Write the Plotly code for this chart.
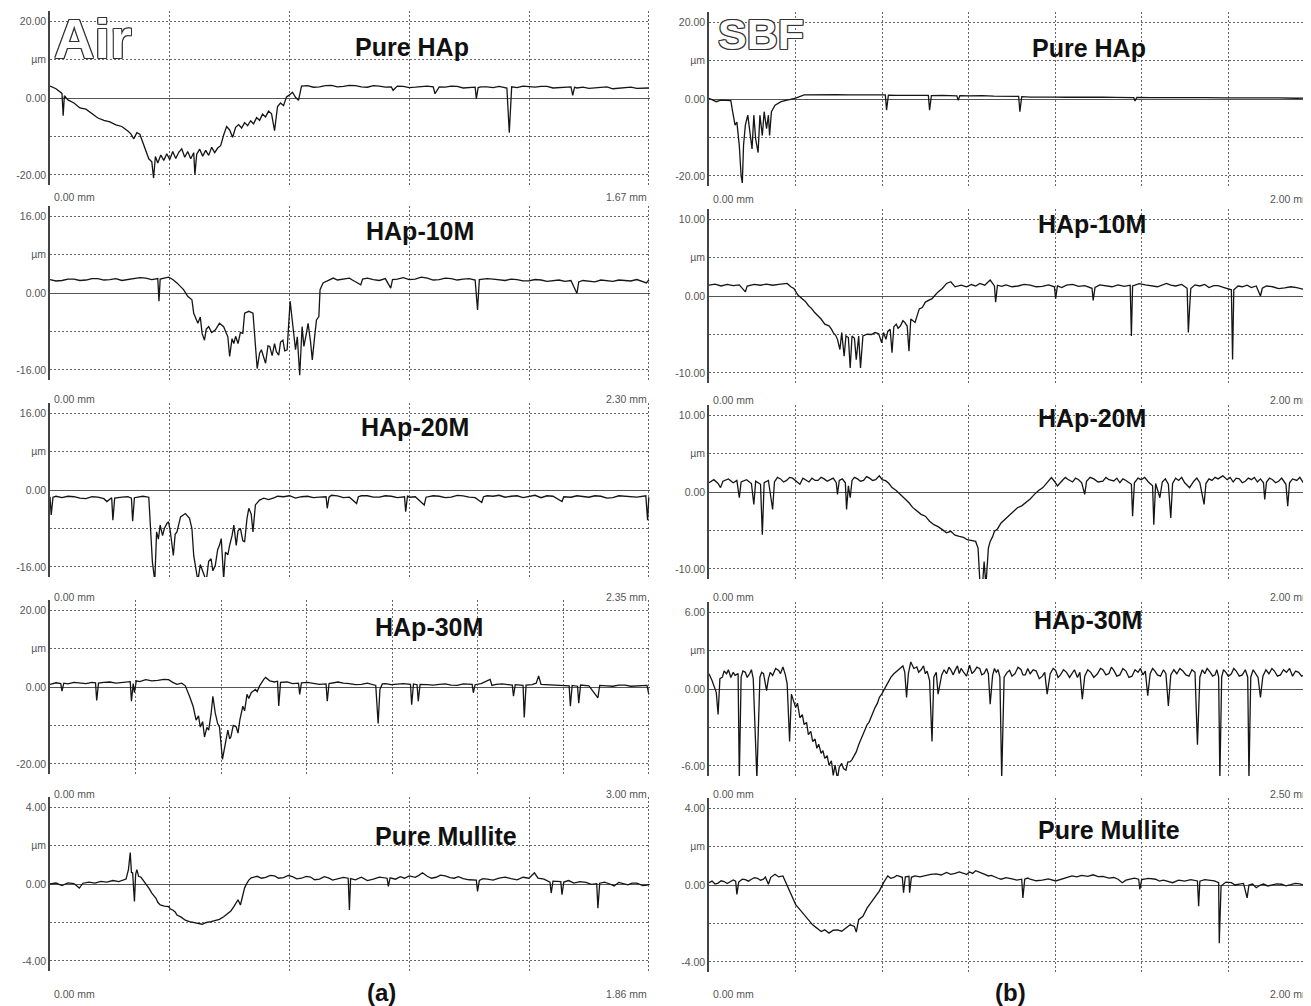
import plotly.graph_objects as go

# ---------------- data: (position in % of scan length, height in µm) ----------------
air_pure_hap = [(0,3.1),(1,2.4),(2,1.2),(2.2,-4.6),(2.4,0.6),(3,-0.5),(4,-1.3),(5,-2.6),(6,-2.9),(7,-4.0),(8,-5.2),(9,-5.8),(10,-6.2),(11,-7.0),(12,-7.4),(13,-8.6),(13.5,-9.3),(14,-10.6),(14.5,-9.0),(15,-9.4),(15.5,-11.5),(16,-13.4),(16.5,-15.8),(17,-16.6),(17.3,-20.8),(17.6,-15.2),(18,-16.9),(18.5,-14.8),(19,-16.2),(19.5,-14.5),(20,-16.0),(20.5,-13.9),(21,-15.7),(21.5,-14.1),(22,-13.2),(22.5,-15.4),(23,-13.9),(23.5,-15.8),(24,-14.2),(24.2,-19.9),(24.5,-14.6),(25,-13.3),(25.5,-15.1),(26,-13.6),(26.5,-14.9),(27,-12.8),(27.5,-14.2),(28,-13.0),(28.5,-12.4),(29,-9.6),(29.5,-7.4),(30,-8.3),(30.5,-10.2),(31,-7.6),(31.5,-6.9),(32,-7.8),(32.5,-6.4),(33,-7.2),(33.5,-5.9),(34,-6.7),(34.5,-5.1),(35,-5.8),(35.5,-4.2),(36,-4.9),(36.5,-3.4),(37,-4.1),(37.5,-8.5),(38,-2.2),(38.5,-1.3),(39,-2.0),(39.5,0.3),(40,0.8),(40.5,1.5),(41,0.2),(41.5,-0.6),(42,3.1),(43,3.2),(44,2.8),(45,2.9),(46,3.2),(47,3.3),(48,2.9),(49,3.0),(50,3.3),(51,3.2),(52,2.9),(53,2.8),(54,3.2),(55,3.1),(56,2.8),(57,2.9),(57.3,2.0),(58,3.1),(59,3.0),(60,2.7),(61,2.8),(62,3.0),(63,3.1),(64,2.9),(64.3,1.1),(65,2.9),(66,2.8),(67,3.1),(68,3.0),(69,2.6),(70,2.7),(71,2.8),(71.2,-0.2),(71.5,2.7),(72,2.9),(73,2.9),(74,2.7),(75,3.0),(76.3,2.6),(76.7,-9.0),(77.1,2.9),(78,2.7),(79,3.1),(80,2.9),(81,2.8),(82,3.0),(83,3.0),(84,2.6),(85,2.7),(86,2.9),(87,2.9),(87.3,0.7),(87.6,2.8),(88,2.6),(89,2.8),(90,2.5),(91,2.6),(92,2.8),(93,2.9),(94,2.4),(95,2.5),(96,2.7),(97,2.8),(98,2.5),(100,2.6)]

air_hap_10m = [(0,2.8),(1,2.5),(2,2.6),(3,2.9),(4,2.9),(5,2.6),(6,2.7),(7,3.0),(8,3.0),(9,2.7),(10,2.8),(11,3.0),(12,2.6),(13,2.8),(14,2.9),(15,3.2),(16,3.1),(17,2.8),(18,3.0),(18.2,-1.7),(18.4,2.9),(19.8,3.3),(20.5,2.8),(21.2,2.1),(22.3,0.7),(23.0,-0.7),(23.7,-1.4),(24.0,-4.2),(24.7,-6.3),(25.1,-5.0),(25.4,-8.4),(25.8,-9.8),(26.1,-7.5),(26.5,-7.0),(27.0,-8.2),(27.6,-7.7),(28.3,-6.3),(29.0,-7.0),(29.7,-9.1),(30.0,-13.2),(30.4,-9.5),(30.7,-10.5),(31.0,-9.0),(31.4,-10.5),(31.8,-8.2),(32.2,-8.4),(32.5,-4.2),(33.2,-3.8),(33.9,-4.2),(34.3,-10.5),(34.6,-15.7),(35.0,-12.5),(35.3,-11.8),(35.7,-13.4),(36.0,-14.6),(36.4,-11.0),(36.7,-11.1),(37.1,-13.0),(37.5,-10.5),(37.8,-12.2),(38.2,-12.9),(38.5,-10.2),(38.9,-9.8),(39.2,-12.0),(39.6,-11.8),(40.1,-1.7),(40.4,-5.6),(41.0,-11.8),(41.3,-9.1),(41.7,-17.1),(42.1,-7.0),(42.4,-11.1),(42.8,-8.5),(43.1,-6.3),(43.5,-10.0),(43.8,-13.9),(44.2,-9.0),(44.5,-5.6),(44.9,-4.9),(45.1,0.7),(45.6,2.1),(46.5,2.6),(47.3,3.1),(48,2.7),(49,2.9),(50,3.1),(50.5,2.7),(51.9,1.7),(52.2,2.9),(53,3.1),(54,2.8),(55,2.6),(56,3.0),(56.9,1.0),(57.2,2.8),(58,2.9),(59,3.2),(60,2.8),(61,2.9),(62,3.3),(63,3.1),(64,2.7),(65,2.8),(66,3.1),(67,3.0),(68,2.7),(69,2.9),(70,3.0),(71,2.7),(71.4,-3.5),(71.7,2.8),(73,3.0),(74,2.9),(75,2.7),(76,2.6),(77,2.9),(78,2.8),(79,2.5),(80,2.5),(81,2.8),(82,2.7),(83,2.4),(84,2.6),(85,2.7),(86,2.4),(87,2.6),(88,-0.1),(88.3,2.3),(89,2.6),(90,2.5),(91,2.3),(92,2.7),(93,2.5),(94,2.4),(95,2.7),(96,2.6),(97,2.5),(98,2.8),(99.6,2.1),(100,2.7)]

air_hap_20m = [(0,-1.4),(0.2,-5.2),(0.5,-1.5),(1,-1.3),(2,-1.6),(3,-1.3),(4,-1.4),(5,-1.7),(6,-1.8),(7,-1.4),(8,-1.5),(9,-1.8),(9.5,-2.4),(10.3,-1.6),(10.5,-6.3),(10.8,-1.7),(12,-1.5),(13,-1.4),(13.6,-1.7),(13.8,-6.5),(14.1,-1.6),(15.5,-1.3),(16.5,-1.5),(16.8,-7.3),(17.1,-15.0),(17.5,-18.9),(17.8,-8.7),(18.1,-10.2),(18.4,-7.3),(18.8,-9.5),(19.1,-8.0),(19.5,-7.0),(19.8,-6.6),(20.1,-8.7),(20.6,-13.6),(20.9,-9.2),(21.2,-8.7),(21.8,-5.6),(22.6,-4.9),(23.3,-5.9),(23.7,-8.0),(24.0,-13.6),(24.4,-16.4),(24.7,-18.9),(25.1,-15.5),(25.4,-16.4),(25.7,-17.5),(26.1,-18.9),(26.5,-14.8),(26.9,-14.3),(27.2,-16.8),(27.6,-15.7),(28.0,-12.4),(28.3,-11.5),(28.6,-10.1),(29.0,-18.5),(29.3,-12.9),(29.7,-13.5),(30.0,-11.5),(30.4,-9.5),(30.7,-7.3),(31.1,-11.5),(31.4,-8.5),(31.8,-8.0),(32.2,-10.5),(32.5,-10.8),(32.9,-5.9),(33.2,-3.8),(33.6,-5.0),(33.9,-8.7),(34.3,-3.1),(34.6,-2.6),(35.0,-2.1),(35.7,-1.7),(36.5,-2.0),(37.5,-1.6),(38,-1.3),(39,-1.4),(40,-1.2),(41,-1.7),(42,-1.4),(43,-1.3),(44,-1.6),(45,-1.5),(46.1,-1.4),(46.3,-3.8),(46.6,-1.5),(47,-1.1),(48,-1.2),(49,-1.6),(50,-1.5),(51.2,-2.8),(51.5,-1.4),(52,-1.2),(53,-1.2),(54,-1.5),(55,-1.5),(56,-1.2),(57,-1.3),(58,-1.6),(59.2,-1.4),(59.4,-4.5),(59.7,-1.2),(60,-1.5),(61,-1.4),(62.5,-3.1),(62.8,-1.5),(64,-1.2),(65,-1.3),(66,-1.6),(67,-1.5),(68,-1.1),(69,-1.2),(70,-1.5),(71,-1.6),(72.1,-2.6),(72.4,-1.4),(73,-1.2),(74,-1.3),(75,-1.1),(76,-1.5),(77,-1.3),(78,-1.2),(79,-1.6),(80,-1.4),(81,-1.1),(82,-1.6),(83,-1.2),(84,-1.3),(85.5,-2.4),(85.8,-1.4),(87,-1.5),(88,-1.2),(89,-1.4),(90,-1.5),(91,-1.2),(92,-1.3),(93,-1.7),(94,-1.6),(95,-1.2),(96,-1.3),(97,-1.5),(98,-1.5),(99.5,-1.2),(99.8,-6.3),(100,-1.5)]

air_hap_30m = [(0,0.7),(1,1.1),(1.8,0.9),(2.0,-1.1),(2.3,1.0),(3,0.8),(4,1.2),(5,1.0),(6,0.9),(7,1.2),(7.6,1.1),(7.8,-3.5),(8.1,1.0),(9,1.2),(10,1.3),(11,1.0),(12,1.2),(13.4,1.4),(13.6,-3.7),(13.9,0.9),(14.1,-1.5),(14.4,1.6),(15,1.4),(16,1.9),(17,1.6),(18,1.7),(19,2.0),(19.8,1.9),(20.5,1.2),(21.2,0.7),(22.0,1.0),(22.6,0.3),(23.3,-2.4),(23.9,-5.0),(24.4,-8.6),(24.8,-7.5),(25.1,-10.4),(25.5,-9.0),(25.8,-13.0),(26.2,-10.5),(26.5,-11.2),(26.9,-7.0),(27.2,-2.4),(27.6,-6.8),(28.0,-9.5),(28.3,-10.4),(28.8,-18.8),(29.3,-14.8),(29.7,-11.2),(30.0,-13.5),(30.2,-13.0),(30.6,-10.0),(31.1,-10.4),(31.4,-12.0),(31.7,-8.6),(32.2,-5.0),(32.5,-6.2),(32.9,-1.9),(33.2,-3.0),(33.6,-1.5),(34.3,-0.6),(34.6,-1.2),(35.0,0.3),(35.7,2.0),(36.0,2.5),(36.7,1.6),(37.5,1.3),(38.0,1.5),(38.2,-4.9),(38.5,1.2),(39.6,1.3),(40.5,0.9),(41.5,1.0),(41.7,-1.9),(42.0,1.1),(43,1.2),(44,1.0),(45,0.7),(46.1,0.8),(46.3,-3.7),(46.6,0.9),(47.3,1.1),(48.1,1.3),(49,1.0),(50,0.9),(51,0.6),(52,0.7),(53,1.0),(54.4,0.4),(54.8,-9.5),(55.1,-0.6),(55.5,0.8),(56,0.9),(57,0.6),(58,0.8),(59,0.9),(60.2,0.7),(60.4,-4.6),(60.7,0.8),(61.3,0.6),(61.5,-3.7),(61.8,0.7),(63,0.6),(64,0.5),(65,0.7),(66,0.8),(67,0.5),(68,0.4),(69,0.8),(70.5,0.7),(70.7,-1.5),(71.0,0.6),(72,0.9),(73.5,2.0),(73.8,0.4),(74.5,0.7),(75.5,0.8),(76.5,0.6),(77.2,0.5),(77.4,-2.4),(77.7,0.6),(79.0,0.4),(79.2,-7.9),(79.5,0.5),(80.5,0.6),(81.2,1.0),(81.6,2.9),(82.0,0.7),(83,0.6),(84,0.5),(85,0.4),(86.7,0.3),(86.9,-5.0),(87.2,0.4),(88.1,0.2),(88.3,-4.2),(88.6,0.5),(89.3,0.4),(90,0.3),(91.5,-2.8),(91.8,0.4),(93,0.3),(94,0.2),(95,0.5),(96,0.5),(97,0.2),(98,0.3),(99,0.5),(99.7,0.4),(100,-1.9)]

air_pure_mullite = [(0,0.0),(1,0.05),(2,-0.08),(3,0.06),(4,0.02),(4.9,-0.21),(5.5,0.04),(6.5,0.1),(7.5,0.05),(8.5,0.14),(9.5,0.1),(10.5,0.18),(11.5,0.12),(12.3,0.24),(12.7,0.26),(13.1,0.75),(13.4,1.63),(13.6,0.6),(13.8,0.58),(14.1,-0.91),(14.3,0.5),(14.5,0.75),(14.8,0.4),(15.2,0.35),(15.5,0.23),(15.9,0.05),(16.3,-0.12),(16.6,-0.25),(17.0,-0.47),(17.4,-0.6),(17.7,-0.74),(18.0,-0.95),(18.4,-1.09),(19.1,-1.15),(19.8,-1.18),(20.1,-1.3),(20.5,-1.35),(20.9,-1.45),(21.2,-1.61),(21.9,-1.72),(22.6,-1.88),(23.3,-1.95),(24.0,-2.02),(24.7,-2.05),(25.4,-2.09),(26.1,-2.0),(26.9,-1.96),(27.6,-1.9),(28.3,-1.84),(29.0,-1.7),(29.7,-1.53),(30.2,-1.4),(30.7,-1.18),(31.1,-1.0),(31.4,-0.82),(31.8,-1.09),(32.2,-0.47),(32.5,-0.2),(32.9,0.05),(33.2,0.2),(33.6,0.32),(34.6,0.4),(35.3,0.3),(36,0.35),(36.8,0.45),(37.5,0.42),(38.2,0.3),(39,0.33),(39.8,0.44),(40.5,0.38),(41.2,0.27),(42,0.3),(42.8,0.4),(43.5,0.36),(44.2,0.22),(45,0.25),(45.8,0.38),(46.5,0.32),(47.2,0.2),(48,0.28),(49,0.34),(49.8,0.3),(50.0,-1.35),(50.2,0.28),(51,0.22),(52,0.35),(53,0.18),(54,0.25),(55,0.36),(56.3,0.3),(56.5,-0.12),(56.8,0.32),(57.7,0.25),(58.5,0.38),(59.2,0.3),(60,0.42),(61,0.35),(61.6,0.45),(62.2,0.58),(63,0.4),(63.7,0.3),(64.5,0.35),(65.2,0.46),(66,0.42),(66.8,0.33),(67.5,0.3),(68.2,0.38),(69,0.28),(70,0.22),(71.2,0.2),(71.4,-0.39),(71.7,0.18),(72.3,0.28),(73,0.25),(74,0.2),(75,0.3),(76,0.36),(77,0.28),(78,0.22),(79,0.35),(80,0.3),(80.9,0.58),(81.5,0.3),(82.5,0.25),(83.5,0.1),(83.7,-0.47),(84,0.15),(85.3,0.12),(85.5,-0.56),(85.8,0.1),(86.6,0.18),(87.5,0.05),(88.5,0.12),(89.5,0.08),(90.4,-0.02),(91.3,0.02),(91.5,-1.26),(91.8,0.04),(92.6,0.1),(93.5,0.0),(94.2,-0.1),(95,0.08),(95.8,0.02),(96.5,-0.04),(97.2,0.05),(98,0.05),(99,-0.08),(100,-0.04)]

sbf_pure_hap = [(0,0.2),(0.5,-0.2),(1.2,-0.7),(1.9,-0.3),(2.8,-0.3),(3.6,-0.4),(3.9,-3.3),(4.3,-6.8),(4.6,-6.0),(5.0,-12.1),(5.3,-20.0),(5.5,-21.8),(5.7,-12.0),(6.0,-6.8),(6.4,-4.2),(6.7,-8.6),(7.1,-13.0),(7.4,-4.2),(7.7,-10.4),(8.1,-13.9),(8.4,-4.2),(8.8,-9.5),(9.1,-3.3),(9.5,-7.7),(9.8,-4.2),(10.0,-9.5),(10.3,-3.3),(10.9,-1.6),(11.9,-0.7),(12.9,-0.3),(14.3,0.2),(15.7,1.05),(17,1.1),(19,1.0),(21,1.15),(23,1.05),(25,1.1),(27,1.0),(29.1,1.05),(29.3,-2.9),(29.6,1.0),(31,0.95),(33,1.0),(35,0.9),(36.2,0.95),(36.4,-2.9),(36.7,0.9),(38.5,0.95),(40.9,0.8),(41.1,-0.3),(41.4,0.85),(43,0.8),(45,0.9),(47,0.75),(49,0.8),(51.1,0.7),(51.3,-3.3),(51.6,0.6),(53,0.5),(55,0.55),(57,0.5),(59,0.45),(61,0.5),(63,0.4),(65,0.45),(67,0.4),(70.1,0.35),(70.3,-0.5),(70.6,0.4),(73,0.35),(76,0.4),(79,0.3),(82,0.35),(85,0.3),(88,0.35),(91,0.25),(94,0.3),(97,0.2),(99.2,0.25)]

sbf_hap_10m = [(0,1.4),(1,1.55),(2,1.3),(3,1.5),(4,1.35),(5,1.45),(6.0,0.53),(6.3,1.3),(7.5,1.5),(8.5,1.4),(9.5,1.55),(10.5,1.4),(11.5,1.5),(12.9,1.63),(13.5,1.2),(14.0,0.97),(14.7,0.09),(15.3,-0.35),(15.9,-0.7),(16.4,-1.23),(16.9,-1.6),(17.4,-2.11),(18.0,-2.6),(18.5,-2.99),(19.1,-3.65),(19.8,-3.87),(20.2,-4.3),(20.5,-4.75),(20.9,-5.1),(21.2,-5.63),(21.6,-6.95),(21.9,-4.75),(22.3,-7.82),(22.6,-5.19),(23.0,-5.4),(23.3,-9.36),(23.6,-5.19),(24.0,-5.5),(24.3,-8.26),(24.7,-5.19),(25.0,-9.36),(25.4,-5.19),(26.1,-4.97),(26.8,-5.0),(27.4,-4.75),(28.0,-4.9),(28.5,-6.07),(28.8,-4.75),(29.2,-5.63),(29.5,-4.6),(29.9,-4.31),(30.2,-7.38),(30.5,-4.0),(30.9,-3.65),(31.2,-4.2),(31.6,-3.87),(32.0,-3.2),(32.3,-3.43),(32.7,-3.9),(33.0,-7.16),(33.3,-2.99),(34.0,-3.43),(34.7,-1.67),(35.2,-1.5),(35.7,-0.79),(36.2,-0.6),(36.8,-0.35),(37.3,0.1),(37.8,0.53),(38.5,0.97),(39.2,1.63),(39.9,1.85),(40.6,1.19),(41.6,1.41),(42.5,1.2),(43.3,1.49),(44.0,1.3),(44.7,1.63),(45.5,1.4),(46.4,2.07),(47.1,1.3),(47.3,-0.79),(47.6,1.4),(48.3,1.25),(49,1.45),(50,1.2),(51,1.3),(52,1.5),(53,1.4),(54,1.2),(55,1.25),(56,1.45),(57.0,1.2),(57.2,-0.35),(57.5,1.3),(58.2,1.1),(59,1.4),(60,1.5),(61,1.25),(62,1.35),(63.2,1.0),(63.4,-0.57),(63.7,1.1),(64.5,1.45),(65.5,1.3),(66.5,1.2),(67.5,1.45),(68.5,1.25),(69.5,1.4),(69.7,-5.2),(69.9,1.3),(71,1.6),(72,1.45),(73,1.3),(74,1.2),(75.5,1.63),(76.2,1.4),(77,1.3),(78,1.5),(78.9,1.0),(79.1,-4.75),(79.3,-1.67),(79.5,0.97),(80.2,1.45),(81,1.3),(81.8,1.5),(82.5,1.1),(83.3,1.35),(84,1.35),(85,1.1),(86.2,0.8),(86.4,-8.26),(86.6,0.8),(87.3,1.3),(88,1.2),(88.8,1.4),(89.5,1.1),(90.3,1.3),(91.0,0.0),(91.3,1.0),(92,1.3),(93,1.2),(94,0.95),(95,1.05),(96,1.2),(97,1.1),(98,0.9),(99.2,0.97)]

sbf_hap_20m = [(0,1.2),(0.8,1.6),(1.5,1.1),(1.9,0.57),(2.3,1.4),(3.2,1.7),(4.0,1.2),(4.6,1.5),(5.0,-0.74),(5.3,1.3),(6.2,1.6),(7.0,1.1),(7.4,-1.62),(7.7,1.4),(8.5,1.0),(8.8,-5.55),(9.1,1.2),(9.8,1.5),(10.5,-2.27),(10.8,1.3),(11.3,1.9),(11.8,1.7),(12.3,1.3),(12.8,1.5),(13.3,1.9),(13.8,1.8),(14.4,1.4),(15.0,1.0),(15.5,1.8),(16.0,1.6),(16.5,1.3),(17.0,1.8),(17.5,1.5),(18.0,1.5),(18.5,1.9),(19.0,1.7),(19.5,1.4),(20.0,1.6),(20.5,1.8),(21.0,1.2),(21.2,-0.31),(21.5,1.5),(22.0,1.7),(22.5,1.2),(22.7,-2.27),(23.0,0.8),(23.3,-0.74),(23.6,1.5),(24.0,1.9),(24.5,1.7),(25.0,1.4),(25.5,1.5),(26.0,2.0),(26.5,1.8),(27.0,1.5),(27.5,1.6),(28.1,2.1),(28.6,1.6),(29.2,1.44),(29.7,1.1),(30.2,0.57),(30.9,0.2),(31.6,-0.31),(32.3,-0.9),(33.0,-1.4),(33.6,-2.0),(34.3,-2.49),(35.0,-2.9),(35.7,-3.14),(36.4,-3.8),(37.1,-4.24),(37.8,-4.5),(38.5,-4.89),(39.2,-5.3),(39.9,-5.11),(40.6,-5.6),(41.3,-5.76),(42.0,-5.9),(42.6,-6.2),(43.3,-6.3),(44.0,-6.42),(44.4,-7.29),(44.7,-11.66),(45.1,-12.5),(45.4,-9.04),(45.7,-12.1),(46.1,-7.29),(46.4,-6.42),(46.8,-5.8),(47.1,-5.11),(47.6,-4.8),(48.2,-4.02),(48.9,-3.5),(49.6,-2.93),(50.2,-2.6),(50.9,-2.05),(51.6,-1.8),(52.3,-1.4),(53.0,-0.9),(53.7,-0.31),(54.4,0.2),(55.1,0.57),(55.8,1.2),(56.5,1.88),(57.0,1.4),(57.5,0.79),(58.3,1.5),(58.8,1.9),(59.2,1.66),(60.0,1.3),(60.5,1.8),(61.0,1.6),(61.5,1.2),(62.0,-0.31),(62.3,1.4),(62.9,1.9),(63.5,1.7),(64.2,1.3),(65.0,1.4),(65.5,1.9),(66.0,1.6),(66.8,1.44),(67.3,1.8),(67.8,1.2),(68.3,1.7),(68.8,1.5),(69.7,1.0),(69.9,-3.14),(70.2,1.2),(70.8,1.8),(71.3,1.6),(71.9,1.9),(72.5,1.3),(73.2,0.8),(73.4,-4.24),(73.7,1.1),(74.4,-0.74),(74.8,1.3),(75.3,1.7),(75.8,1.0),(76.2,-3.36),(76.5,1.1),(77.0,1.8),(77.5,1.5),(78.0,1.9),(78.5,1.2),(79.3,0.57),(80.0,1.4),(80.5,1.8),(81.0,1.2),(81.7,-1.62),(82.0,1.1),(82.5,1.7),(83.0,1.5),(83.5,1.9),(84.0,1.7),(84.8,2.1),(85.5,1.6),(86.0,1.9),(86.5,1.3),(87.0,1.8),(87.5,1.7),(88.0,1.2),(88.5,1.4),(89.0,1.8),(89.5,1.6),(90.0,1.9),(90.5,1.3),(91.0,1.7),(91.5,1.2),(91.7,-0.96),(92.0,1.3),(92.5,1.8),(93.0,1.6),(93.5,1.2),(94.0,1.4),(94.5,1.8),(95.2,1.0),(95.5,-1.83),(95.8,1.2),(96.3,1.7),(97.0,1.5),(97.5,1.9),(98.0,1.3),(98.6,1.6),(99.2,1.22)]

sbf_hap_30m = [(0,1.19),(0.5,0.66),(1.2,-0.26),(1.5,-1.98),(1.8,0.8),(2.2,0.92),(2.5,1.4),(2.9,1.19),(3.2,1.5),(3.6,0.9),(4.0,1.3),(4.3,1.06),(4.8,1.2),(5.0,-6.99),(5.3,0.92),(5.6,1.4),(6.0,1.3),(6.3,0.9),(6.7,1.19),(7.0,1.5),(7.3,0.8),(7.9,-6.99),(8.4,0.92),(8.7,1.3),(9.0,1.2),(9.5,-0.13),(9.8,0.79),(10.1,1.3),(10.5,1.06),(11.0,1.6),(11.5,1.45),(11.8,1.2),(12.2,1.72),(12.6,1.1),(12.9,0.40),(13.3,-4.09),(13.6,-0.40),(14.3,-1.45),(14.6,-1.1),(15.0,-2.24),(15.4,-2.0),(15.7,-2.77),(16.1,-2.6),(16.4,-3.56),(16.8,-3.3),(17.1,-4.09),(17.5,-3.9),(17.8,-4.62),(18.1,-4.3),(18.5,-5.01),(18.8,-4.8),(19.1,-5.41),(19.5,-5.2),(19.8,-5.94),(20.2,-5.6),(20.5,-6.73),(20.8,-5.94),(21.2,-6.99),(21.5,-6.1),(21.9,-5.8),(22.2,-6.2),(22.6,-6.33),(22.9,-5.7),(23.3,-5.67),(23.6,-5.5),(24.0,-5.15),(24.3,-4.9),(24.7,-4.35),(25.0,-4.0),(25.4,-3.56),(25.7,-3.2),(26.1,-2.77),(26.4,-2.6),(26.7,-2.24),(27.1,-1.9),(27.4,-1.45),(27.8,-1.1),(28.1,-0.66),(28.5,-0.4),(28.8,-0.13),(29.2,0.2),(29.5,0.40),(30.0,0.9),(30.5,1.19),(31.0,1.4),(31.6,1.58),(32.0,1.8),(32.3,1.32),(32.6,-0.66),(32.9,1.2),(33.3,2.11),(33.8,1.6),(34.3,1.72),(34.6,1.3),(35.0,1.5),(35.4,1.8),(35.7,1.19),(36.0,1.4),(36.4,0.66),(36.8,-4.09),(37.1,0.92),(37.5,1.3),(37.8,-0.40),(38.4,1.1),(38.8,1.5),(39.2,1.19),(39.6,1.7),(39.9,1.5),(40.3,1.1),(40.6,1.45),(41.0,1.8),(41.3,1.2),(41.6,1.6),(42.0,1.32),(42.5,1.0),(43.0,1.85),(43.4,1.2),(43.8,1.4),(44.2,1.7),(44.7,1.58),(45.0,1.1),(45.4,1.2),(45.8,1.6),(46.1,1.19),(46.4,-1.19),(46.8,1.06),(47.1,1.6),(47.4,1.3),(47.7,1.5),(48.0,0.92),(48.3,-6.99),(48.7,0.92),(49.2,1.3),(49.6,1.45),(50.0,1.0),(50.5,1.2),(51.0,1.7),(51.5,1.5),(51.8,1.1),(52.2,1.1),(52.6,1.6),(53.0,1.19),(53.5,1.5),(54.0,1.4),(54.5,0.8),(55.0,1.0),(55.4,1.3),(55.8,-0.40),(56.3,1.2),(56.8,1.6),(57.2,1.45),(57.6,0.9),(58.0,1.1),(58.5,1.5),(59.0,1.3),(59.5,0.9),(59.9,1.19),(60.3,1.5),(60.8,0.9),(61.2,1.3),(61.6,-0.79),(62.0,1.0),(62.5,1.5),(63.0,1.3),(63.5,0.9),(64.1,1.19),(64.6,1.6),(65.0,1.5),(65.5,1.1),(66.0,1.2),(66.4,1.7),(66.8,1.45),(67.3,1.0),(67.8,1.1),(68.3,1.6),(68.8,1.4),(69.3,0.9),(69.8,1.0),(70.3,1.5),(70.8,1.3),(71.2,1.6),(71.6,1.1),(72.0,1.4),(72.4,-0.53),(72.8,1.2),(73.2,1.6),(73.6,1.4),(74.0,1.1),(74.5,1.0),(75.0,1.5),(75.4,1.2),(75.8,-1.32),(76.2,1.1),(76.7,1.5),(77.2,1.19),(77.7,1.6),(78.2,1.4),(78.7,1.1),(79.2,1.0),(79.7,1.5),(80.2,1.3),(80.6,-4.35),(81.0,0.92),(81.4,1.5),(81.8,1.2),(82.2,1.6),(82.7,1.32),(83.1,1.0),(83.5,1.1),(83.8,1.5),(84.1,0.92),(84.3,-6.99),(84.6,0.92),(84.9,1.5),(85.3,1.3),(85.7,1.0),(86.2,1.19),(86.6,1.6),(87.0,1.4),(87.5,1.0),(88.0,1.1),(88.5,1.5),(88.9,0.92),(89.1,-6.99),(89.4,0.92),(89.8,1.5),(90.2,1.2),(90.6,0.9),(91.0,-0.66),(91.4,1.0),(91.9,1.5),(92.4,1.19),(92.9,1.6),(93.3,1.4),(93.8,1.0),(94.3,1.1),(94.8,1.5),(95.3,1.3),(95.8,1.6),(96.3,1.0),(96.8,1.4),(97.3,1.3),(97.8,1.0),(98.3,1.1),(98.8,1.4),(99.2,0.92)]

sbf_pure_mullite = [(0,0.12),(0.5,0.2),(1,0.05),(1.5,0.1),(2,0.22),(2.5,0.18),(3,0.08),(3.5,0.15),(4,0.26),(4.4,0.2),(4.6,-0.49),(4.9,0.15),(5.5,0.3),(6,0.28),(6.5,0.2),(7,0.3),(7.5,0.38),(8,0.35),(8.5,0.25),(9,0.3),(9.3,0.42),(9.8,0.04),(10.2,0.4),(10.9,0.56),(11.5,0.42),(12.2,0.47),(12.9,-0.05),(13.6,-0.58),(14.3,-1.02),(15.0,-1.28),(15.7,-1.54),(16.4,-1.8),(17.1,-2.07),(17.8,-2.24),(18.5,-2.42),(19.1,-2.33),(19.8,-2.5),(20.5,-2.35),(21.2,-2.33),(21.9,-2.4),(22.6,-2.24),(23.3,-2.07),(24.0,-2.15),(24.3,-2.45),(24.7,-1.8),(25.4,-1.63),(26.1,-1.19),(26.7,-0.93),(27.4,-0.58),(28.1,-0.32),(28.8,0.12),(29.5,0.47),(30.0,0.35),(30.5,0.39),(31.0,0.5),(31.5,0.45),(31.9,0.4),(32.1,-0.40),(32.4,0.42),(33.0,0.45),(33.1,-0.40),(33.4,0.4),(34.0,0.47),(34.8,0.42),(35.7,0.5),(36.6,0.55),(37.5,0.58),(38.3,0.52),(39.2,0.65),(39.9,0.55),(40.6,0.6),(41.3,0.68),(42.0,0.61),(42.5,0.55),(43.0,0.68),(43.5,0.6),(44.0,0.74),(44.5,0.66),(45.0,0.62),(45.5,0.55),(46.1,0.47),(46.6,0.5),(47.2,0.4),(47.7,0.35),(48.2,0.30),(49,0.38),(50.0,0.32),(50.8,0.25),(51.6,0.30),(51.8,-0.67),(52.1,0.3),(52.6,0.36),(53.0,0.30),(54.0,0.22),(55.0,0.25),(56.0,0.32),(57.2,0.21),(58.5,0.35),(59.2,0.42),(59.9,0.47),(60.7,0.42),(61.5,0.5),(62.5,0.45),(63.4,0.53),(64.2,0.44),(65.0,0.45),(66.0,0.36),(66.8,0.39),(67.5,0.3),(68.2,0.12),(68.8,0.25),(69.5,0.3),(70.2,0.36),(70.9,0.30),(71.1,-0.23),(71.4,0.28),(72.5,0.34),(73.7,0.30),(74.3,0.2),(75.0,0.25),(75.8,0.18),(76.5,0.12),(77.5,0.25),(78.5,0.2),(79.5,0.28),(80.6,0.21),(80.8,-1.10),(81.0,0.2),(81.8,0.28),(82.5,0.25),(83.4,0.21),(84.1,0.12),(84.2,-3.03),(84.5,-0.05),(85.3,0.15),(86.2,0.12),(86.8,0.0),(87.5,0.05),(88.2,0.08),(88.8,-0.67),(89.1,0.0),(89.7,0.05),(90.3,-0.14),(91.0,0.0),(91.5,0.05),(92.2,-0.05),(93,0.0),(93.7,0.06),(94.5,0.04),(95.2,-0.04),(96,0.02),(96.7,0.08),(97.5,0.06),(98.3,-0.02),(99.2,0.04)]

# scan lengths (mm) and vertical scales (µm)
air_lengths = [1.67, 2.30, 2.35, 3.00, 1.86]
air_scales = [20, 16, 16, 20, 4]
sbf_lengths = [2.00, 2.00, 2.00, 2.50, 2.00]
sbf_scales = [20, 10, 10, 6, 4]
sample_names = ["Pure HAp", "HAp-10M", "HAp-20M", "HAp-30M", "Pure Mullite"]
air_profiles = [air_pure_hap, air_hap_10m, air_hap_20m, air_hap_30m, air_pure_mullite]
sbf_profiles = [sbf_pure_hap, sbf_hap_10m, sbf_hap_20m, sbf_hap_30m, sbf_pure_mullite]

# ---------------- layout (page pixel geometry; page body has an 8px margin) ----------------
OFF = 8
PAGE_W, PAGE_H = 1311, 1006
W, H = PAGE_W - OFF, PAGE_H - OFF


def px_x(p):
    return (p - OFF) / W


def px_y(p):
    return 1 - (p - OFF) / H


row_centers = {0: [98, 293, 490, 687, 884], 1: [99, 296, 492, 689, 885]}
HALF = 87          # plot half height in px
TICK_FRAC = 1.13   # axis range relative to the labelled scale
col_px = {0: (50, 650), 1: (709, 1311)}
right_full_px = 606  # full 7-division width of the SBF column (partly cut off)
xdiv = {0: [5, 5, 5, 7, 5], 1: [7, 7, 7, 7, 7]}
label_y = {0: [197, 399, 597, 794, 994], 1: [199, 400, 597, 794, 994]}
title_pos = {0: [(0.603, 0.66), (0.617, 0.80), (0.608, 0.82), (0.632, 0.78), (0.66, 0.62)],
             1: [(0.631, 0.66), (0.636, 0.94), (0.636, 0.96), (0.63, 0.89), (0.665, 0.72)]}

fig = go.Figure()
annotations = []
grid_col = "#666"
grid_dash = "2px,2px"
tick_font = dict(family="Liberation Sans", size=10.5, color="#555")

k = 0
for col in (0, 1):
    lengths = air_lengths if col == 0 else sbf_lengths
    scales = air_scales if col == 0 else sbf_scales
    profiles = air_profiles if col == 0 else sbf_profiles
    for row in range(5):
        k += 1
        L, M, prof = lengths[row], scales[row], profiles[row]
        c = row_centers[col][row]
        px0, px1 = col_px[col]
        xd = [max(0.0, px_x(px0)), min(1.0, px_x(px1))]
        yd = [px_y(c + HALF), px_y(c - HALF)]
        if col == 0:
            xr = [0, L * 1.002]
        else:
            xr = [0, L * (px1 - px0) / right_full_px]
        n = xdiv[col][row]
        xs = [p[0] * L / 100 for p in prof]
        ys = [p[1] for p in prof]
        sfx = "" if k == 1 else str(k)
        fig.add_trace(go.Scatter(x=xs, y=ys, mode="lines",
                                 line=dict(color="#151515", width=1.3),
                                 xaxis="x" + sfx, yaxis="y" + sfx,
                                 hoverinfo="skip", showlegend=False))
        fmt = lambda v: f"{v:.2f}"
        fig.update_layout(**{
            "xaxis" + sfx: dict(domain=xd, range=xr, anchor="y" + sfx,
                                tickvals=[L * i / n for i in range(n + 1)],
                                showticklabels=False, ticks="",
                                showgrid=True, gridcolor=grid_col, griddash=grid_dash, gridwidth=1,
                                zeroline=False, showline=False, fixedrange=True),
            "yaxis" + sfx: dict(domain=yd, range=[-M * TICK_FRAC, M * TICK_FRAC], anchor="x" + sfx,
                                tickvals=[-M, -M / 2, 0, M / 2, M],
                                ticktext=[fmt(-M), "", "0.00", "µm", fmt(M)],
                                tickfont=tick_font, ticks="",
                                showgrid=True, gridcolor=grid_col, griddash=grid_dash, gridwidth=1,
                                zeroline=True, zerolinecolor="#555", zerolinewidth=1.2,
                                showline=True, linecolor="#444", linewidth=1.6, fixedrange=True),
        })
        tx, ty = title_pos[col][row]
        annotations.append(dict(text="<b>%s</b>" % sample_names[row], xref="x%s domain" % sfx,
                                yref="y" + sfx, x=tx, y=ty * M, showarrow=False,
                                font=dict(family="Liberation Sans", size=25, color="#111"),
                                xanchor="center", yanchor="middle"))
        ly = px_y(label_y[col][row])
        annotations.append(dict(text="0.00 mm", xref="paper", yref="paper",
                                x=px_x(px0 + 2), y=ly, showarrow=False, xanchor="left",
                                yanchor="middle", font=tick_font))
        if col == 0:
            annotations.append(dict(text=f"{L:.2f} mm", xref="paper", yref="paper",
                                    x=px_x(px1 - 1), y=ly, showarrow=False, xanchor="right",
                                    yanchor="middle", font=tick_font))
        else:
            annotations.append(dict(text=f"{L:.2f} mm", xref="paper", yref="paper",
                                    x=px_x(1268), y=ly, showarrow=False, xanchor="left",
                                    yanchor="middle", font=tick_font))

outline = ",".join(f"{a}px {b}px 0 #333" for a, b in
                   [(1, 0), (-1, 0), (0, 1), (0, -1), (1, 1), (-1, -1), (1, -1), (-1, 1)])
annotations.append(dict(text="<b>Air</b>", xref="paper", yref="paper", x=px_x(52), y=px_y(5),
                        xanchor="left", yanchor="top", showarrow=False,
                        font=dict(family="Liberation Sans", size=56, color="white", shadow=outline)))
annotations.append(dict(text="<b>SBF</b>", xref="paper", yref="paper", x=px_x(716), y=px_y(8),
                        xanchor="left", yanchor="top", showarrow=False,
                        font=dict(family="Liberation Sans", size=43, color="white", shadow=outline)))
annotations.append(dict(text="<b>(a)</b>", xref="paper", yref="paper", x=px_x(381), y=px_y(992),
                        xanchor="center", yanchor="middle", showarrow=False,
                        font=dict(family="Liberation Sans", size=24, color="#111")))
annotations.append(dict(text="<b>(b)</b>", xref="paper", yref="paper", x=px_x(1010), y=px_y(992),
                        xanchor="center", yanchor="middle", showarrow=False,
                        font=dict(family="Liberation Sans", size=24, color="#111")))

fig.update_layout(width=W, height=H, margin=dict(l=0, r=0, t=0, b=0),
                  paper_bgcolor="white", plot_bgcolor="white",
                  annotations=annotations, showlegend=False)
fig.write_html("out.html", config={"displayModeBar": False})
